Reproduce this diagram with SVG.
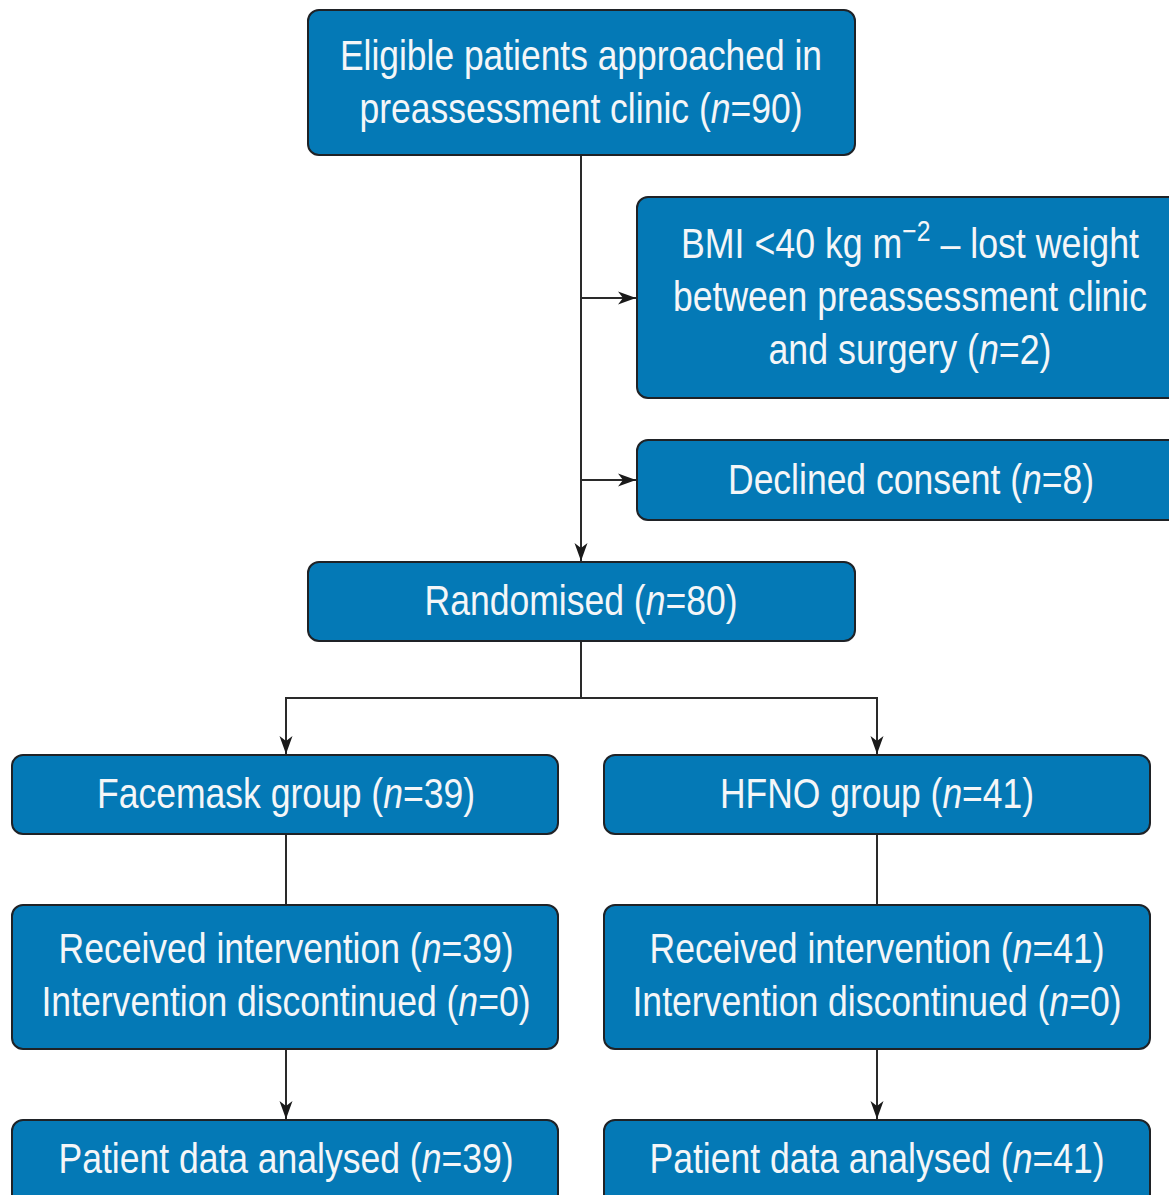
<svg xmlns="http://www.w3.org/2000/svg" width="1169" height="1195" viewBox="0 0 1169 1195">
<style>
.box{fill:#0479b6;stroke:#1f2226;stroke-width:2}
.t{font-family:"Liberation Sans",Arial,sans-serif;font-size:42px;fill:#f4f6f8;text-anchor:middle}
.i{font-style:italic}
.c{fill:none;stroke:#2a2a2a;stroke-width:2}
</style>
<defs>
<marker id="ah" markerUnits="userSpaceOnUse" markerWidth="19" markerHeight="14" refX="18" refY="7" orient="auto">
<path d="M0,0.5 L18,7 L0,13.5 L5,7 Z" fill="#1a1a1a"/>
</marker>
</defs>
<rect width="1169" height="1195" fill="#ffffff"/>
<g id="connectors">
<line class="c" x1="581" y1="155" x2="581" y2="561" marker-end="url(#ah)"/>
<line class="c" x1="581" y1="298" x2="636" y2="298" marker-end="url(#ah)"/>
<line class="c" x1="581" y1="480" x2="636" y2="480" marker-end="url(#ah)"/>
<line class="c" x1="581" y1="641" x2="581" y2="698"/>
<polyline class="c" points="581,698 286,698 286,754" marker-end="url(#ah)"/>
<polyline class="c" points="581,698 877,698 877,754" marker-end="url(#ah)"/>
<line class="c" x1="286" y1="834" x2="286" y2="905"/>
<line class="c" x1="877" y1="834" x2="877" y2="905"/>
<line class="c" x1="286" y1="1049" x2="286" y2="1119" marker-end="url(#ah)"/>
<line class="c" x1="877" y1="1049" x2="877" y2="1119" marker-end="url(#ah)"/>
</g>
<g id="eligible">
<rect class="box" x="308" y="10" width="547" height="145" rx="11"/>
<text class="t" x="581" y="70" textLength="482" lengthAdjust="spacingAndGlyphs">Eligible patients approached in</text>
<text class="t" x="581" y="123" textLength="443" lengthAdjust="spacingAndGlyphs">preassessment clinic (<tspan class="i">n</tspan>=90)</text>
</g>
<g id="bmi">
<rect class="box" x="637" y="197" width="546" height="201" rx="11"/>
<text class="t" x="910" y="258" textLength="458" lengthAdjust="spacingAndGlyphs">BMI &lt;40 kg m<tspan font-size="29" dy="-17">−2</tspan><tspan dy="17"> – lost weight</tspan></text>
<text class="t" x="910" y="311" textLength="474" lengthAdjust="spacingAndGlyphs">between preassessment clinic</text>
<text class="t" x="910" y="364" textLength="283" lengthAdjust="spacingAndGlyphs">and surgery (<tspan class="i">n</tspan>=2)</text>
</g>
<g id="declined">
<rect class="box" x="637" y="440" width="546" height="80" rx="11"/>
<text class="t" x="911" y="494" textLength="366" lengthAdjust="spacingAndGlyphs">Declined consent (<tspan class="i">n</tspan>=8)</text>
</g>
<g id="randomised">
<rect class="box" x="308" y="562" width="547" height="79" rx="11"/>
<text class="t" x="581" y="615" textLength="313" lengthAdjust="spacingAndGlyphs">Randomised (<tspan class="i">n</tspan>=80)</text>
</g>
<g id="facemask">
<rect class="box" x="12" y="755" width="546" height="79" rx="11"/>
<text class="t" x="286" y="808" textLength="378" lengthAdjust="spacingAndGlyphs">Facemask group (<tspan class="i">n</tspan>=39)</text>
</g>
<g id="hfno">
<rect class="box" x="604" y="755" width="546" height="79" rx="11"/>
<text class="t" x="877" y="808" textLength="314" lengthAdjust="spacingAndGlyphs">HFNO group (<tspan class="i">n</tspan>=41)</text>
</g>
<g id="received-left">
<rect class="box" x="12" y="905" width="546" height="144" rx="11"/>
<text class="t" x="286" y="963" textLength="455" lengthAdjust="spacingAndGlyphs">Received intervention (<tspan class="i">n</tspan>=39)</text>
<text class="t" x="286" y="1016" textLength="489" lengthAdjust="spacingAndGlyphs">Intervention discontinued (<tspan class="i">n</tspan>=0)</text>
</g>
<g id="received-right">
<rect class="box" x="604" y="905" width="546" height="144" rx="11"/>
<text class="t" x="877" y="963" textLength="455" lengthAdjust="spacingAndGlyphs">Received intervention (<tspan class="i">n</tspan>=41)</text>
<text class="t" x="877" y="1016" textLength="489" lengthAdjust="spacingAndGlyphs">Intervention discontinued (<tspan class="i">n</tspan>=0)</text>
</g>
<g id="analysed-left">
<rect class="box" x="12" y="1120" width="546" height="110" rx="11"/>
<text class="t" x="286" y="1173" textLength="455" lengthAdjust="spacingAndGlyphs">Patient data analysed (<tspan class="i">n</tspan>=39)</text>
</g>
<g id="analysed-right">
<rect class="box" x="604" y="1120" width="546" height="110" rx="11"/>
<text class="t" x="877" y="1173" textLength="455" lengthAdjust="spacingAndGlyphs">Patient data analysed (<tspan class="i">n</tspan>=41)</text>
</g>
</svg>
